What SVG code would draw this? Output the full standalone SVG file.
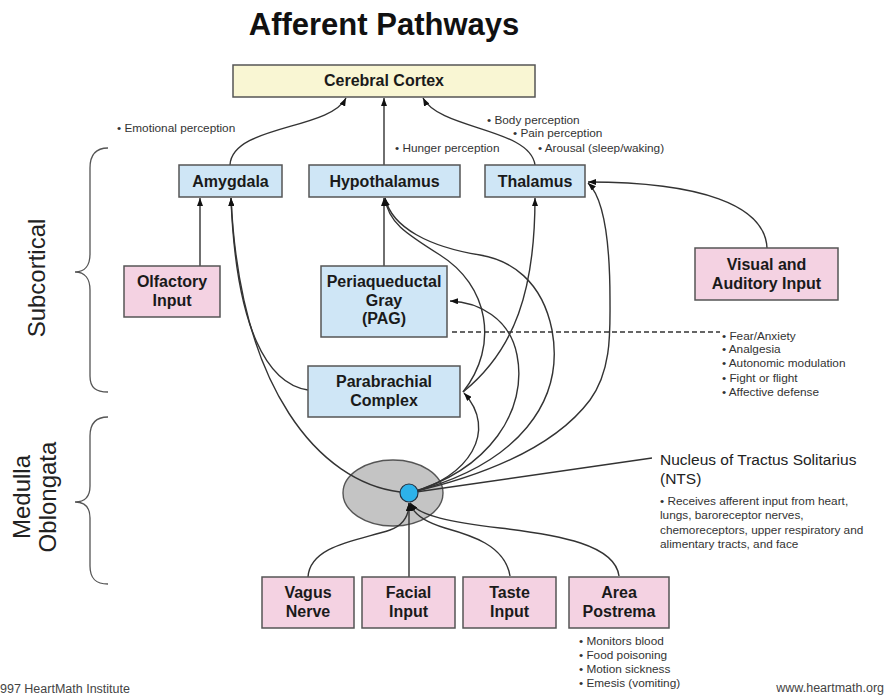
<svg xmlns="http://www.w3.org/2000/svg" width="884" height="698" viewBox="0 0 884 698">
<defs>
<marker id="arr" viewBox="0 0 8 6" refX="8" refY="3" markerWidth="8" markerHeight="6" markerUnits="userSpaceOnUse" orient="auto">
<path d="M0,0 L8,3 L0,6 z" fill="#111"/>
</marker>
</defs>
<style>
.box{stroke:#555;stroke-width:1.5}
.blue{fill:#cfe6f6}
.pink{fill:#f4d2e2}
.ctx{fill:#f9f6d3}
.lbl{font-family:"Liberation Sans",Arial,sans-serif;font-weight:bold;font-size:16px;fill:#1a1a1a;text-anchor:middle}
.note{font-family:"Liberation Sans",Arial,sans-serif;font-size:11.8px;fill:#333}
.side{font-family:"Liberation Sans",Arial,sans-serif;font-size:24px;fill:#222;text-anchor:middle}
.con{fill:none;stroke:#333;stroke-width:1.4}
.arr{marker-end:url(#arr)}
.brace{fill:none;stroke:#555;stroke-width:1.3}
.foot{font-family:"Liberation Sans",Arial,sans-serif;font-size:12.5px;fill:#444}
</style>
<rect width="884" height="698" fill="#fff"/>
<text x="384" y="35" font-family="Liberation Sans, Arial, sans-serif" font-weight="bold" font-size="31" fill="#111" text-anchor="middle">Afferent Pathways</text>

<g id="subcortical-label">
<path class="brace" d="M108,148 C96,148 90,154 90,168 L90,254 C90,265 85,272 75,272 C85,272 90,279 90,290 L90,376 C90,388 96,392 108,392"/>
<text class="side" transform="translate(45,278) rotate(-90)">Subcortical</text>
</g>
<g id="medulla-label">
<path class="brace" d="M108,417 C96,417 90,423 90,436 L90,486 C90,496 85,502 75,502 C85,502 90,508 90,518 L90,566 C90,579 96,584 108,584"/>
<text class="side" transform="translate(30,497) rotate(-90)">Medulla</text>
<text class="side" transform="translate(56,497) rotate(-90)">Oblongata</text>
</g>

<g id="nts-body">
<ellipse cx="393" cy="493" rx="50" ry="33" fill="#c4c4c4" stroke="#555" stroke-width="1.4"/>
</g>

<g id="connectors">
<path class="con arr" d="M230,165 C232,125 330,130 346,98"/>
<path class="con arr" d="M384,165 L384,98"/>
<path class="con arr" d="M535,165 C530,128 440,130 423,98"/>
<path class="con arr" d="M200,266 L200,198"/>
<path class="con arr" d="M308,390 C268,384 236,330 231,198"/>
<path class="con arr" d="M400,492 C320,482 240,390 231,198"/>
<path class="con arr" d="M384,266 L384,198"/>
<path class="con arr" d="M463,392 C500,345 488,285 440,255 C405,233 388,222 385,198"/>
<path class="con arr" d="M409,493 C520,465 565,400 552,330 C542,280 510,260 480,255 C430,247 392,228 385,198"/>
<path class="con arr" d="M463,392 C515,350 535,290 535,198"/>
<path class="con arr" d="M409,493 C500,472 560,440 590,400 C612,370 610,330 610,300 C610,250 606,200 588,183"/>
<path class="con arr" d="M409,493 C490,470 528,410 517,355 C510,318 478,302 450,301"/>
<path class="con arr" d="M409,493 C470,478 498,430 464,393"/>
<path class="con arr" d="M767,248 C765,205 700,182 588,182"/>
<path class="con arr" d="M308,577 C310,545 360,540 390,530 C404,525 409,516 409,503"/>
<path class="con arr" d="M409,577 L409,503"/>
<path class="con arr" d="M510,576 C505,545 470,535 445,528 C425,522 413,514 410,503"/>
<path class="con arr" d="M619,576 C615,545 560,535 500,528 C450,522 420,516 410,503"/>
<path class="con" d="M409,493 L652,458"/>
<path class="con" d="M452,332 L720,332" stroke-dasharray="5,3" stroke-width="1.2"/>
</g>

<g id="nts-core">
<circle cx="409" cy="493" r="9" fill="#2db2ea" stroke="#234" stroke-width="1.2"/>
</g>

<g id="cerebral-cortex">
<rect class="box ctx" x="233" y="65" width="302" height="32"/>
<text class="lbl" x="384" y="86" font-size="15.5">Cerebral Cortex</text>
</g>
<g id="amygdala">
<rect class="box blue" x="179" y="165" width="103" height="32"/>
<text class="lbl" x="230.5" y="187">Amygdala</text>
</g>
<g id="hypothalamus">
<rect class="box blue" x="309" y="165" width="151" height="32"/>
<text class="lbl" x="384.5" y="187">Hypothalamus</text>
</g>
<g id="thalamus">
<rect class="box blue" x="485" y="165" width="100" height="32"/>
<text class="lbl" x="535" y="187">Thalamus</text>
</g>
<g id="olfactory">
<rect class="box pink" x="124" y="266" width="96" height="51"/>
<text class="lbl" x="172" y="287">Olfactory</text>
<text class="lbl" x="172" y="306">Input</text>
</g>
<g id="pag">
<rect class="box blue" x="321" y="266" width="126" height="71"/>
<text class="lbl" x="384" y="287">Periaqueductal</text>
<text class="lbl" x="384" y="306">Gray</text>
<text class="lbl" x="384" y="324">(PAG)</text>
</g>
<g id="parabrachial">
<rect class="box blue" x="308" y="366" width="152" height="51"/>
<text class="lbl" x="384" y="387">Parabrachial</text>
<text class="lbl" x="384" y="406">Complex</text>
</g>
<g id="visual-auditory">
<rect class="box pink" x="695" y="248" width="143" height="52"/>
<text class="lbl" x="766.5" y="270">Visual and</text>
<text class="lbl" x="766.5" y="289">Auditory Input</text>
</g>
<g id="vagus">
<rect class="box pink" x="262" y="577" width="92" height="51"/>
<text class="lbl" x="308" y="598">Vagus</text>
<text class="lbl" x="308" y="617">Nerve</text>
</g>
<g id="facial">
<rect class="box pink" x="362" y="577" width="93" height="51"/>
<text class="lbl" x="408.5" y="598">Facial</text>
<text class="lbl" x="408.5" y="617">Input</text>
</g>
<g id="taste">
<rect class="box pink" x="463" y="577" width="93" height="51"/>
<text class="lbl" x="509.5" y="598">Taste</text>
<text class="lbl" x="509.5" y="617">Input</text>
</g>
<g id="area-postrema">
<rect class="box pink" x="569" y="577" width="100" height="51"/>
<text class="lbl" x="619" y="598">Area</text>
<text class="lbl" x="619" y="617">Postrema</text>
</g>

<g id="notes">
<text class="note" x="117" y="132">• Emotional perception</text>
<text class="note" x="395" y="152">• Hunger perception</text>
<text class="note" x="487" y="124">• Body perception</text>
<text class="note" x="513" y="137">• Pain perception</text>
<text class="note" x="538" y="152">• Arousal (sleep/waking)</text>
<text class="note" x="722" y="340">• Fear/Anxiety</text>
<text class="note" x="722" y="353">• Analgesia</text>
<text class="note" x="722" y="367">• Autonomic modulation</text>
<text class="note" x="722" y="382">• Fight or flight</text>
<text class="note" x="722" y="396">• Affective defense</text>
<text x="660" y="465" font-family="Liberation Sans, Arial, sans-serif" font-size="15.5" fill="#222">Nucleus of Tractus Solitarius</text>
<text x="660" y="484" font-family="Liberation Sans, Arial, sans-serif" font-size="15.5" fill="#222">(NTS)</text>
<text class="note" x="660" y="505">• Receives afferent input from heart,</text>
<text class="note" x="660" y="519">lungs, baroreceptor nerves,</text>
<text class="note" x="660" y="534">chemoreceptors, upper respiratory and</text>
<text class="note" x="660" y="548">alimentary tracts, and face</text>
<text class="note" x="579" y="645">• Monitors blood</text>
<text class="note" x="579" y="659">• Food poisoning</text>
<text class="note" x="579" y="673">• Motion sickness</text>
<text class="note" x="579" y="687">• Emesis (vomiting)</text>
<text class="foot" x="0" y="693">997 HeartMath Institute</text>
<text class="foot" x="884" y="692" text-anchor="end">www.heartmath.org</text>
</g>
</svg>
